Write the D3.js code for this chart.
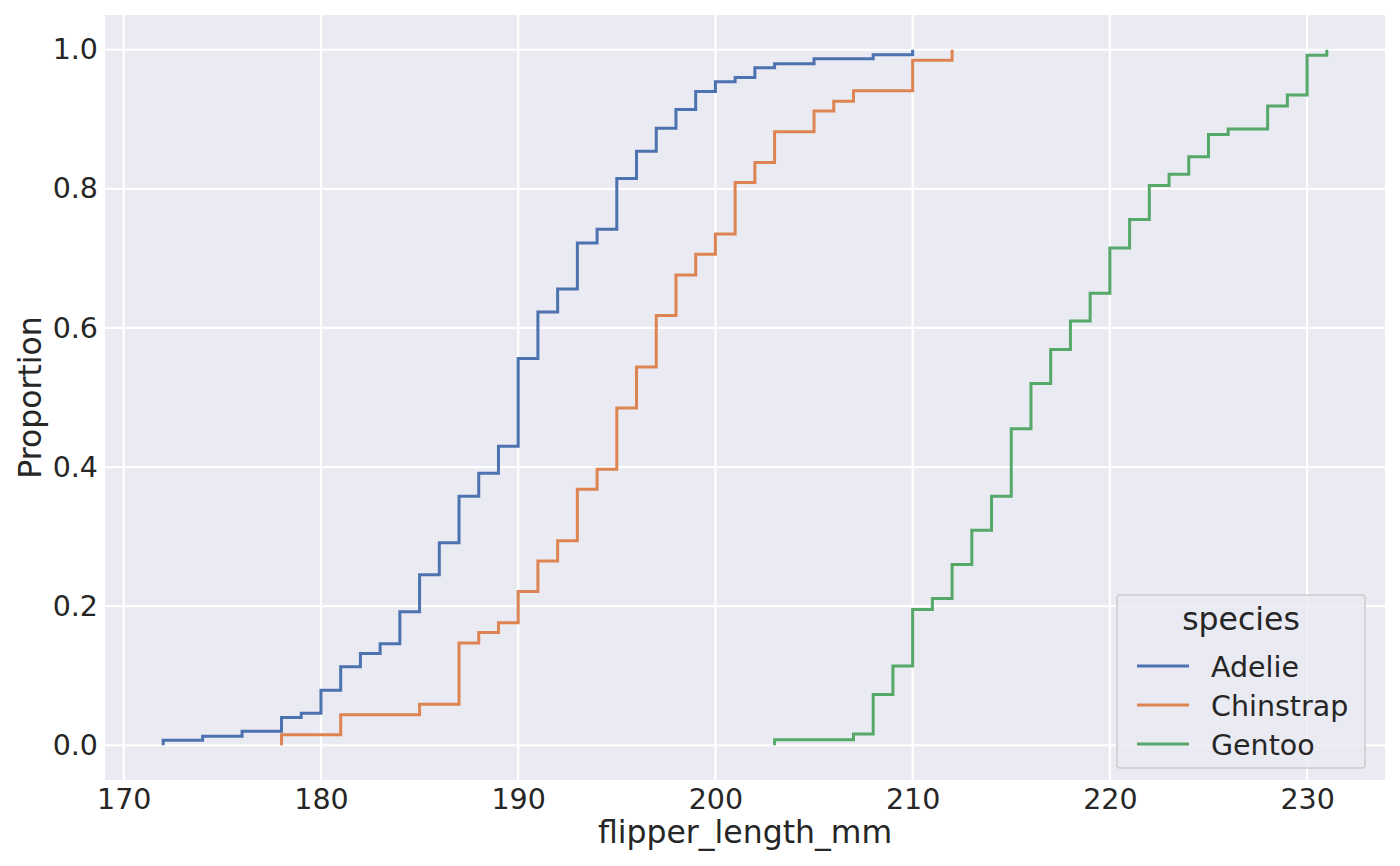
<!DOCTYPE html>
<html>
<head>
<meta charset="utf-8">
<script src="https://cdn.jsdelivr.net/npm/d3@7"></script>
<style>
body{margin:0;background:#fff}
text{font-family:"DejaVu Sans",sans-serif;fill:#262626}
</style>
</head>
<body>
<div id="graph"></div>
<script>
"use strict"
// ecdf steps: unique flipper lengths and cumulative proportion
var species=["Adelie","Chinstrap","Gentoo"]
var colors=["#4c72b0","#dd8452","#55a868"]

var adelieX=[172,174,176,178,179,180,181,182,183,184,185,186,187,188,189,190,191,192,193,194,195,196,197,198,199,200,201,202,203,205,208,210]
var adelieY=[0.007,0.013,0.020,0.040,0.046,0.079,0.113,0.132,0.146,0.192,0.245,0.291,0.358,0.391,0.430,0.556,0.623,0.656,0.722,0.742,0.815,0.854,0.887,0.914,0.940,0.954,0.960,0.974,0.980,0.987,0.993,1.0]

var chinstrapX=[178,181,185,187,188,189,190,191,192,193,194,195,196,197,198,199,200,201,202,203,205,206,207,210,212]
var chinstrapY=[0.015,0.044,0.059,0.147,0.162,0.176,0.221,0.265,0.294,0.368,0.397,0.485,0.544,0.618,0.676,0.706,0.735,0.809,0.838,0.882,0.912,0.926,0.941,0.985,1.0]

var gentooX=[203,207,208,209,210,211,212,213,214,215,216,217,218,219,220,221,222,223,224,225,226,228,229,230,231]
var gentooY=[0.008,0.016,0.073,0.114,0.195,0.211,0.260,0.309,0.358,0.455,0.520,0.569,0.610,0.650,0.715,0.756,0.805,0.821,0.846,0.878,0.886,0.919,0.935,0.992,1.0]

var xTicks=[170,180,190,200,210,220,230]
var yTicks=[0,0.2,0.4,0.6,0.8,1.0]

function refresh(){
  var W=1400,H=866
  var m={l:105,r:15,t:15,b:86}
  var svg=d3.select('#graph').append('svg:svg').attr('width',W).attr('height',H)

  var xs=[adelieX,chinstrapX,gentooX]
  var ys=[adelieY,chinstrapY,gentooY]
  var xmin=d3.min(xs,function(a){return d3.min(a)})
  var xmax=d3.max(xs,function(a){return d3.max(a)})
  var pad=(xmax-xmin)*0.05
  var x=d3.scaleLinear().domain([xmin-pad,xmax+pad]).range([m.l,W-m.r])
  var y=d3.scaleLinear().domain([-0.05,1.05]).range([H-m.b,m.t])

  svg.append('svg:rect').attr('x',m.l).attr('y',m.t).attr('width',W-m.r-m.l).attr('height',H-m.b-m.t).attr('fill','#eaeaf2')

  // grid
  var g=svg.append('svg:g')
  g.selectAll('.vx').data(xTicks).enter().append('svg:line')
    .attr('x1',function(d){return x(d)}).attr('x2',function(d){return x(d)})
    .attr('y1',m.t).attr('y2',H-m.b).attr('stroke','#fff').attr('stroke-width',2.2)
  g.selectAll('.hy').data(yTicks).enter().append('svg:line')
    .attr('y1',function(d){return y(d)}).attr('y2',function(d){return y(d)})
    .attr('x1',m.l).attr('x2',W-m.r).attr('stroke','#fff').attr('stroke-width',2.2)

  // axes (no tick marks, no domain line, darkgrid style)
  var ax=svg.append('svg:g').attr('transform','translate(0,'+(H-m.b)+')')
    .call(d3.axisBottom(x).tickValues(xTicks).tickSize(0).tickPadding(9).tickFormat(d3.format('d')))
  ax.select('.domain').remove()
  ax.selectAll('text').attr('font-size',28.5).attr('font-family','DejaVu Sans').attr('fill','#262626').attr('dy','0.71em')

  var ay=svg.append('svg:g').attr('transform','translate('+m.l+',0)')
    .call(d3.axisLeft(y).tickValues(yTicks).tickSize(0).tickPadding(7).tickFormat(d3.format('.1f')))
  ay.select('.domain').remove()
  ay.selectAll('text').attr('font-size',28.5).attr('font-family','DejaVu Sans').attr('fill','#262626')

  svg.append('svg:text').attr('x',(m.l+W-m.r)/2).attr('y',843).attr('text-anchor','middle').attr('font-size',31.5).text('flipper_length_mm')
  svg.append('svg:text').attr('transform','translate(41,'+(m.t+H-m.b)/2+') rotate(-90)').attr('text-anchor','middle').attr('font-size',31.5).text('Proportion')

  // ecdf step lines
  var line=d3.line().x(function(d){return x(d[0])}).y(function(d){return y(d[1])}).curve(d3.curveStepAfter)
  for(var i=0;i<species.length;i++){
    var pts=[[xs[i][0],0]]
    for(var j=0;j<xs[i].length;j++) pts.push([xs[i][j],ys[i][j]])
    svg.append('svg:path').attr('d',line(pts)).attr('fill','none').attr('stroke',colors[i]).attr('stroke-width',3)
  }

  // legend
  var lg=svg.append('svg:g').attr('transform','translate(1117,595)')
  lg.append('svg:rect').attr('width',248).attr('height',173).attr('rx',3).attr('fill','#eaeaf2').attr('fill-opacity',0.8).attr('stroke','#cccccc').attr('stroke-width',1.5)
  lg.append('svg:text').attr('x',124).attr('y',35).attr('text-anchor','middle').attr('font-size',31.5).text('species')
  for(i=0;i<species.length;i++){
    var yy=71+i*39
    lg.append('svg:line').attr('x1',20).attr('x2',72).attr('y1',yy).attr('y2',yy).attr('stroke',colors[i]).attr('stroke-width',3)
    lg.append('svg:text').attr('x',94).attr('y',yy+10.5).attr('font-size',28.5).text(species[i])
  }
}
refresh()
</script>
</body>
</html>
